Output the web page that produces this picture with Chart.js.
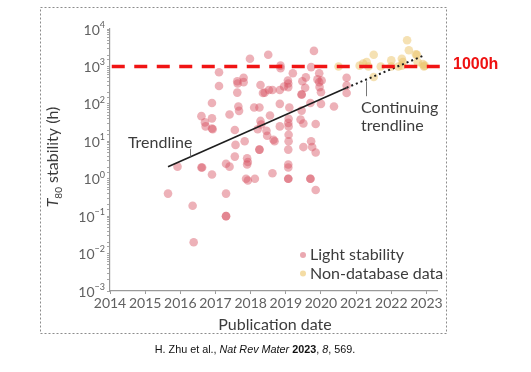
<!DOCTYPE html>
<html>
<head>
<meta charset="utf-8">
<script src="https://cdn.jsdelivr.net/npm/chart.js@4"></script>
<style>
  html, body { margin: 0; padding: 0; background: #fff; }
  #wrap { position: relative; width: 531px; height: 372px; }
  #caption {
    position: absolute; left: 0; top: 343px; width: 510px; text-align: center;
    font-family: "Liberation Sans", Arial, sans-serif; font-size: 10.8px; color: #111;
  }
</style>
</head>
<body>
<div id="wrap">
  <canvas id="chart" width="531" height="372"></canvas>
  <div id="caption">H. Zhu et al., <i>Nat Rev Mater</i> <b>2023</b>, <i>8</i>, 569.</div>
</div>
<script>
// ── Data ─────────────────────────────────────────────────────────────────────
const YEAR_TICKS = [2014, 2015, 2016, 2017, 2018, 2019, 2020, 2021, 2022, 2023];
const DECADE_TICKS = [0.001, 0.01, 0.1, 1, 10, 100, 1000, 10000];
const DECADE_EXPONENTS = ["-3", "-2", "-1", "0", "1", "2", "3", "4"];

// Light stability (T80, hours) vs publication date
const lightX = [
  2015.65, 2015.92, 2016.35, 2016.38, 2016.60, 2016.62, 2016.60, 2016.70, 2016.72, 2016.90,
  2016.90, 2016.92, 2016.90, 2016.90, 2017.10, 2017.10, 2017.30, 2017.30, 2017.30, 2017.30,
  2017.40, 2017.40, 2017.55, 2017.55, 2017.57, 2017.62, 2017.62, 2017.63, 2017.65, 2017.67,
  2017.80, 2017.80, 2017.83, 2017.90, 2017.92, 2017.90, 2017.87, 2017.92, 2017.98, 2018.12,
  2018.10, 2018.25, 2018.20, 2018.25, 2018.25, 2018.28, 2018.28, 2018.30, 2018.35, 2018.40,
  2018.45, 2018.47, 2018.50, 2018.52, 2018.55, 2018.62, 2018.62, 2018.65, 2018.68, 2018.85,
  2018.85, 2018.83, 2018.83, 2018.83, 2018.95, 2019.06, 2019.07, 2019.07, 2019.07, 2019.07,
  2019.07, 2019.08, 2019.08, 2019.08, 2019.07, 2019.08, 2019.10, 2019.07, 2019.07, 2019.20,
  2019.45, 2019.45, 2019.47, 2019.45, 2019.42, 2019.50, 2019.50, 2019.55, 2019.57, 2019.70,
  2019.70, 2019.70, 2019.72, 2019.72, 2019.75, 2019.80, 2019.85, 2019.85, 2019.85, 2019.90,
  2019.95, 2019.96, 2019.95, 2020.00, 2020.00, 2020.02, 2020.37, 2020.73, 2020.73, 2020.73,
];
const lightY = [
  0.4, 2.1, 0.19, 0.02, 2.0, 2.0, 47, 32, 25, 1.3,
  22, 21, 41, 105, 300, 700, 0.4, 0.1, 0.1, 2.5,
  2.1, 52, 20, 3.9, 8, 200, 400, 350, 85, 65,
  500, 380, 10, 3.5, 2.8, 2.4, 1.0, 0.9, 1600, 1.0,
  80, 80, 21, 6, 6, 320, 35, 28, 195, 200,
  19, 14, 2050, 235, 49, 1.4, 235, 11, 10, 900,
  1050, 235, 100, 25, 290, 420, 1.0, 1.0, 2.4, 2.0,
  6, 10, 15, 25, 31, 40, 80, 280, 350, 660,
  175, 180, 400, 66, 38, 30, 7, 270, 510, 105,
  1.0, 1.0, 10, 960, 7, 2600, 0.5, 5, 29, 450,
  380, 280, 660, 205, 100, 420, 85, 500, 195, 310,
];

// Non-database data
const nonDbX = [
  2020.50, 2021.10, 2021.20, 2021.30, 2021.35, 2021.50, 2021.50, 2021.70, 2022.00, 2022.00,
  2022.20, 2022.30, 2022.33, 2022.30, 2022.45, 2022.50, 2022.70, 2022.73, 2022.75, 2022.90,
  2022.93, 2022.95,
];
const nonDbY = [
  1000, 1050, 1200, 1300, 1000, 2050, 520, 1000, 1450, 1000,
  1000, 1600, 1300, 1050, 5000, 2700, 2100, 2050, 1300, 1150,
  1000, 1050,
];

// Trendline (fitted) and its continuation
const trendX = [2015.65, 2020.73];
const trendY = [2.1, 270];
const contX = [2020.73, 2022.92];
const contY = [270, 1950];

// 1000 h target
const targetX = [2014.05, 2023.45];
const targetY = [1000, 1000];

const toPoints = (xs, ys) => xs.map((x, i) => ({ x, y: ys[i] }));

// ── Styles ───────────────────────────────────────────────────────────────────
const FONT = "Lato, 'DejaVu Sans', sans-serif";
const PINK = "rgba(214, 82, 98, 0.45)";
const YELLOW = "rgba(236, 196, 104, 0.5)";
const TICK_GREY = "#616161";
const TEXT_DARK = "#3c3c3c";

Chart.defaults.font.family = FONT;

// ── Overlay: frame, y tick labels, axis titles, annotations, legend ─────────
const overlay = {
  id: "overlay",
  afterDraw(chart) {
    const { ctx } = chart;
    const { x, y } = chart.scales;
    ctx.save();

    // dotted frame
    ctx.strokeStyle = "#8c8c8c";
    ctx.lineWidth = 1;
    ctx.setLineDash([2, 2]);
    ctx.strokeRect(40.5, 7.5, 406, 326);
    ctx.setLineDash([]);

    // y tick labels 10^n with raised exponent
    ctx.fillStyle = TICK_GREY;
    ctx.textBaseline = "middle";
    DECADE_TICKS.forEach((v, i) => {
      const py = y.getPixelForValue(v);
      const right = 105;
      ctx.font = `9px ${FONT}`;
      const wExp = ctx.measureText(DECADE_EXPONENTS[i].replace("-", "−")).width;
      ctx.textAlign = "right";
      ctx.fillText(DECADE_EXPONENTS[i].replace("-", "−"), right, py - 4);
      ctx.font = `14px ${FONT}`;
      ctx.fillText("10", right - wExp, py + 1);
    });

    // y-axis title: T80 stability (h)
    ctx.save();
    ctx.translate(52, 157);
    ctx.rotate(-Math.PI / 2);
    ctx.fillStyle = TEXT_DARK;
    ctx.textAlign = "left";
    ctx.textBaseline = "alphabetic";
    ctx.font = `italic 16px ${FONT}`;
    const wT = ctx.measureText("T").width;
    ctx.font = `10px ${FONT}`;
    const wSub = ctx.measureText("80").width;
    ctx.font = `16px ${FONT}`;
    const wRest = ctx.measureText(" stability (h)").width;
    let cx = -(wT + wSub + wRest) / 2;
    const base = 6;
    ctx.font = `italic 16px ${FONT}`;
    ctx.fillText("T", cx, base);
    cx += wT;
    ctx.font = `10px ${FONT}`;
    ctx.fillText("80", cx, base + 4);
    cx += wSub;
    ctx.font = `16px ${FONT}`;
    ctx.fillText(" stability (h)", cx, base);
    ctx.restore();

    // x-axis title
    ctx.fillStyle = TEXT_DARK;
    ctx.font = `16px ${FONT}`;
    ctx.textAlign = "center";
    ctx.textBaseline = "middle";
    ctx.fillText("Publication date", 275, 325);

    // 1000h label
    ctx.fillStyle = "#ee1111";
    ctx.font = "bold 16px 'Liberation Sans', Arial, sans-serif";
    ctx.textAlign = "left";
    ctx.fillText("1000h", 453, y.getPixelForValue(1000) - 2);

    // annotations
    ctx.fillStyle = TEXT_DARK;
    ctx.font = `16px ${FONT}`;
    ctx.fillText("Trendline", x.getPixelForValue(2014.51), y.getPixelForValue(9.2));
    ctx.fillText("Continuing", x.getPixelForValue(2021.14), y.getPixelForValue(79));
    ctx.fillText("trendline", x.getPixelForValue(2021.14), y.getPixelForValue(26));

    ctx.strokeStyle = "#777";
    ctx.lineWidth = 1;
    ctx.beginPath();
    const lx1 = Math.round(x.getPixelForValue(2016.27)) + 0.5;
    ctx.moveTo(lx1, y.getPixelForValue(6.3));
    ctx.lineTo(lx1, y.getPixelForValue(3.9));
    const lx2 = Math.round(x.getPixelForValue(2021.27)) + 0.5;
    ctx.moveTo(lx2, y.getPixelForValue(400));
    ctx.lineTo(lx2, y.getPixelForValue(160));
    ctx.stroke();

    // legend
    const items = [["Light stability", "rgba(214, 82, 98, 0.5)"], ["Non-database data", "rgba(236, 196, 104, 0.6)"]];
    items.forEach(([label, color], i) => {
      const ly = 255 + i * 18.5;
      ctx.fillStyle = color;
      ctx.beginPath();
      ctx.arc(303, ly, 3, 0, Math.PI * 2);
      ctx.fill();
      ctx.fillStyle = TEXT_DARK;
      ctx.font = `16px ${FONT}`;
      ctx.textAlign = "left";
      ctx.fillText(label, 310, ly);
    });

    ctx.restore();
  },
};

// ── Chart ────────────────────────────────────────────────────────────────────
new Chart(document.getElementById("chart"), {
  type: "scatter",
  data: {
    datasets: [
      {
        data: toPoints(targetX, targetY),
        showLine: true,
        borderColor: "#f01414",
        borderWidth: 3.5,
        borderDash: [13, 9.5],
        pointRadius: 0,
        clip: false,
      },
      {
        data: toPoints(trendX, trendY),
        showLine: true,
        borderColor: "#1e1e1e",
        borderWidth: 1.6,
        pointRadius: 0,
      },
      {
        data: toPoints(contX, contY),
        showLine: true,
        borderColor: "#1e1e1e",
        borderWidth: 2,
        borderDash: [2, 3],
        pointRadius: 0,
      },
      {
        label: "Non-database data",
        data: toPoints(nonDbX, nonDbY),
        backgroundColor: YELLOW,
        borderWidth: 0,
        pointRadius: 4.3,
      },
      {
        label: "Light stability",
        data: toPoints(lightX, lightY),
        backgroundColor: PINK,
        borderWidth: 0,
        pointRadius: 4.3,
      },
    ],
  },
  options: {
    responsive: false,
    devicePixelRatio: 1,
    animation: false,
    layout: { padding: { top: 29, right: 94, left: 0, bottom: 0 } },
    plugins: {
      legend: { display: false },
      tooltip: { enabled: false },
    },
    scales: {
      x: {
        type: "linear",
        min: 2014,
        max: 2023.3,
        afterBuildTicks: (scale) => { scale.ticks = YEAR_TICKS.map(v => ({ value: v })); },
        afterFit: (scale) => { scale.height = 81; },
        border: { color: "#9a9a9a", width: 1.2 },
        grid: { drawOnChartArea: false, tickLength: 3, color: "#9a9a9a" },
        ticks: {
          color: TICK_GREY,
          font: { size: 14 },
          padding: 1,
          maxRotation: 0,
          autoSkip: false,
          callback: (v) => String(v),
        },
      },
      y: {
        type: "logarithmic",
        min: 0.001,
        max: 10000,
        afterFit: (scale) => { scale.width = 110; },
        border: { color: "#9a9a9a", width: 1.2 },
        grid: { drawOnChartArea: false, tickLength: 3, color: "#a8a8a8" },
        ticks: {
          autoSkip: false,
          callback: () => "",
        },
      },
    },
  },
  plugins: [overlay],
});
</script>
</body>
</html>
